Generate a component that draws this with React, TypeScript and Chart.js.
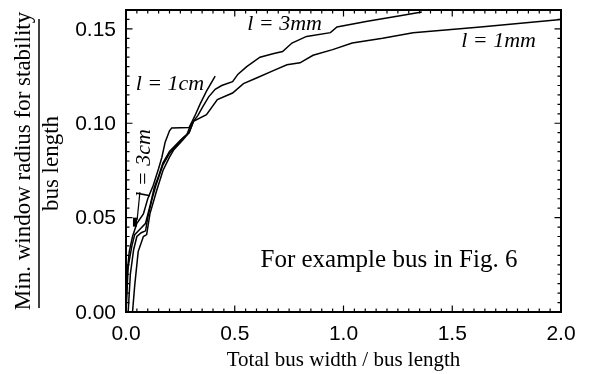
import React, { useEffect, useRef } from "react";
import { Chart, registerables } from "chart.js";
Chart.register(...registerables);

const xTickValues = [0, 0.5, 1.0, 1.5, 2.0];
const yTickValues = [0, 0.05, 0.1, 0.15];

const seriesLabels = ["l = 3cm", "l = 1cm", "l = 3mm", "l = 1mm"];

const cm3X = [0, 0.005, 0.015, 0.03, 0.05, 0.08, 0.1, 0.125, 0.15, 0.165, 0.18, 0.2, 0.21, 0.29, 0.3];
const cm3Y = [0, 0.02, 0.032, 0.04, 0.047, 0.052, 0.06, 0.067, 0.076, 0.082, 0.09, 0.096, 0.0975, 0.0977, 0.1];

const cm1X = [0, 0.01, 0.027, 0.04, 0.065, 0.09, 0.11, 0.13, 0.15, 0.17, 0.2, 0.25, 0.28, 0.3, 0.317, 0.34, 0.37, 0.41];
const cm1Y = [0, 0.024, 0.035, 0.041, 0.044, 0.047, 0.056, 0.066, 0.072, 0.079, 0.085, 0.091, 0.094, 0.1, 0.104, 0.11, 0.117, 0.125];

const mm3X = [0.01, 0.02, 0.035, 0.05, 0.07, 0.09, 0.1, 0.12, 0.14, 0.17, 0.2, 0.23, 0.26, 0.29, 0.31, 0.33, 0.354, 0.38, 0.41, 0.44, 0.49, 0.515, 0.555, 0.616, 0.68, 0.72, 0.763, 0.83, 0.94, 0.97, 1.11, 1.26, 1.36];
const mm3Y = [0, 0.02, 0.033, 0.04, 0.042, 0.043, 0.05, 0.06, 0.068, 0.078, 0.084, 0.088, 0.092, 0.095, 0.101, 0.104, 0.109, 0.114, 0.118, 0.12, 0.122, 0.126, 0.13, 0.135, 0.137, 0.138, 0.1425, 0.146, 0.148, 0.151, 0.154, 0.157, 0.159];

const mm1X = [0.03, 0.04, 0.056, 0.08, 0.095, 0.11, 0.14, 0.17, 0.2, 0.22, 0.26, 0.29, 0.31, 0.37, 0.42, 0.49, 0.54, 0.6, 0.68, 0.74, 0.8, 0.86, 0.95, 1.04, 1.18, 1.32, 1.63, 2.0];
const mm1Y = [0, 0.014, 0.032, 0.04, 0.041, 0.052, 0.064, 0.075, 0.082, 0.086, 0.091, 0.095, 0.101, 0.1045, 0.1125, 0.116, 0.121, 0.124, 0.128, 0.131, 0.132, 0.136, 0.139, 0.1425, 0.145, 0.148, 0.151, 0.155];

const toPts = (xs: number[], ys: number[]) => xs.map((x, i) => ({ x, y: ys[i] }));

const SERIF = "'Liberation Serif', 'Times New Roman', serif";
const SANS = "'Liberation Sans', Arial, sans-serif";

const decorPlugin = {
  id: "decor",
  afterDraw(chart: any) {
    const { ctx, chartArea: a, scales } = chart;
    const xs = scales.x;
    const ys = scales.y;
    const X = (v: number) => xs.getPixelForValue(v);
    const Y = (v: number) => ys.getPixelForValue(v);
    ctx.save();
    ctx.strokeStyle = "#000";
    ctx.fillStyle = "#000";
    // ticks (inward, all four sides)
    ctx.lineWidth = 1.2;
    for (let i = 0; i <= 40; i++) {
      const px = X(i * 0.05);
      const len = i % 10 === 0 ? 6.5 : 3.5;
      ctx.beginPath();
      ctx.moveTo(px, a.bottom);
      ctx.lineTo(px, a.bottom - len);
      ctx.moveTo(px, a.top);
      ctx.lineTo(px, a.top + len);
      ctx.stroke();
    }
    for (let i = 0; i <= 32; i++) {
      const py = Y(i * 0.005);
      const len = i % 10 === 0 ? 6.5 : 3.5;
      ctx.beginPath();
      ctx.moveTo(a.left, py);
      ctx.lineTo(a.left + len, py);
      ctx.moveTo(a.right, py);
      ctx.lineTo(a.right - len, py);
      ctx.stroke();
    }
    // frame
    ctx.lineWidth = 2;
    ctx.strokeRect(a.left, a.top, a.right - a.left, a.bottom - a.top);

    // tick labels
    ctx.font = `21px ${SANS}`;
    ctx.textBaseline = "middle";
    ctx.textAlign = "center";
    xTickValues.forEach((v) => ctx.fillText(v.toFixed(1), X(v), a.bottom + 22));
    ctx.textAlign = "right";
    yTickValues.forEach((v) => ctx.fillText(v.toFixed(2), a.left - 10, Y(v) + 1));

    // series labels
    ctx.textBaseline = "alphabetic";
    ctx.textAlign = "center";
    ctx.font = `italic 22px ${SERIF}`;
    ctx.fillText(seriesLabels[2], X(0.729), Y(0.1494));
    ctx.fillText(seriesLabels[3], X(1.713), Y(0.1404));
    ctx.fillText(seriesLabels[1], X(0.202), Y(0.1176));
    ctx.save();
    ctx.translate(X(0.11), Y(0.0787));
    ctx.rotate(-Math.PI / 2);
    ctx.fillText(seriesLabels[0], 0, 0);
    ctx.restore();
    // leader line + marker
    ctx.lineWidth = 1.2;
    ctx.beginPath();
    ctx.moveTo(X(0.064), Y(0.0635));
    ctx.lineTo(X(0.051), Y(0.0487));
    ctx.stroke();
    ctx.fillRect(X(0.032), Y(0.05), 4, 9);

    // annotation
    ctx.font = `25px ${SERIF}`;
    ctx.fillText("For example bus in Fig. 6", X(1.209), Y(0.0238));

    // x title
    ctx.font = `21px ${SERIF}`;
    ctx.fillText("Total bus width / bus length", (a.left + a.right) / 2, 366);

    // y title (fraction)
    ctx.save();
    ctx.rotate(-Math.PI / 2);
    ctx.font = `23px ${SERIF}`;
    ctx.fillText("Min. window radius for stability", -161, 30);
    ctx.fillText("bus length", -163.5, 58);
    ctx.restore();
    ctx.lineWidth = 1.5;
    ctx.beginPath();
    ctx.moveTo(39, 19);
    ctx.lineTo(39, 308);
    ctx.stroke();

    ctx.restore();
  },
};

export default function App() {
  const ref = useRef<HTMLCanvasElement>(null);
  useEffect(() => {
    const mk = (xs: number[], ys: number[]) => ({
      data: toPts(xs, ys),
      borderColor: "#000",
      borderWidth: 1.5,
      pointRadius: 0,
      tension: 0,
      fill: false,
    });
    const chart = new Chart(ref.current!, {
      type: "line",
      data: {
        datasets: [mk(cm3X, cm3Y), mk(cm1X, cm1Y), mk(mm3X, mm3Y), mk(mm1X, mm1Y)],
      },
      options: {
        animation: false,
        responsive: false,
        maintainAspectRatio: false,
        layout: { padding: { left: 0, top: 10, right: 32, bottom: 0 } },
        plugins: { legend: { display: false }, tooltip: { enabled: false } },
        scales: {
          x: {
            type: "linear",
            min: 0,
            max: 2,
            grid: { display: false, drawTicks: false },
            border: { display: false },
            ticks: { display: false },
            afterFit: (s: any) => { s.height = 62; },
            afterBuildTicks: (s: any) => { s.ticks = xTickValues.map((v) => ({ value: v })); },
          },
          y: {
            type: "linear",
            min: 0,
            max: 0.16,
            grid: { display: false, drawTicks: false },
            border: { display: false },
            ticks: { display: false },
            afterFit: (s: any) => { s.width = 126; },
            afterBuildTicks: (s: any) => { s.ticks = yTickValues.map((v) => ({ value: v })); },
          },
        },
      },
      plugins: [decorPlugin],
    });
    return () => chart.destroy();
  }, []);
  return (
    <div style={{ position: "fixed", left: 0, top: 0, width: 593, height: 374, background: "#fff" }}>
      <canvas ref={ref} width={593} height={374} style={{ width: 593, height: 374 }} />
    </div>
  );
}
